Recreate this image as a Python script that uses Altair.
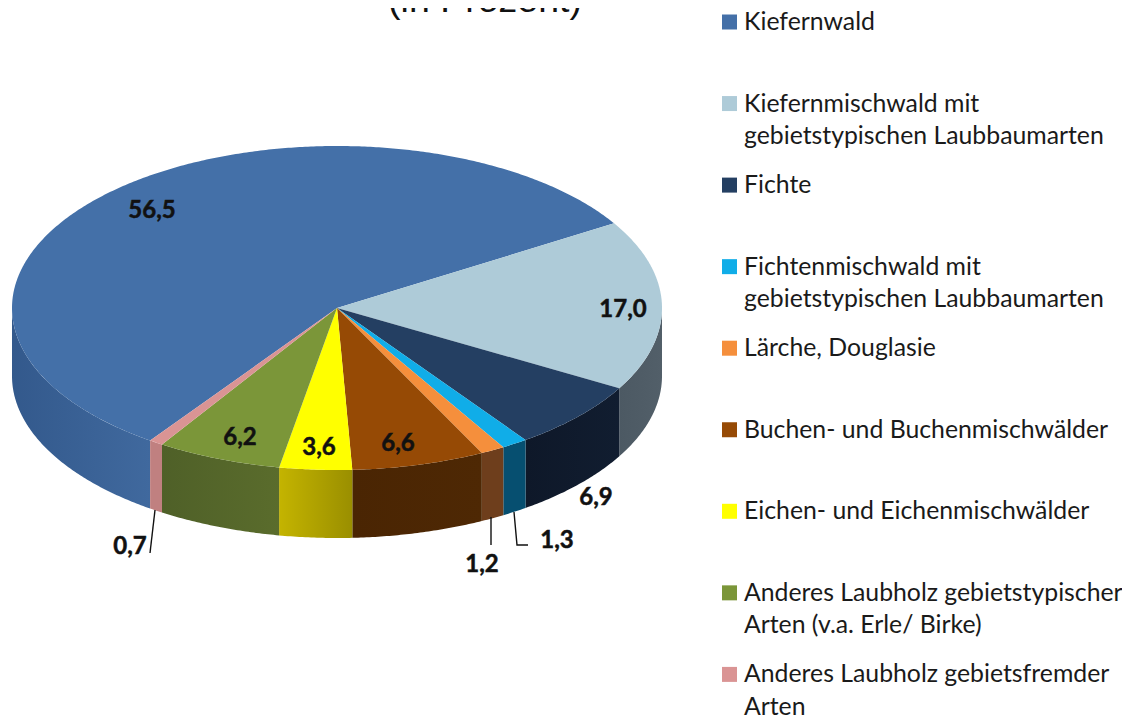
import math
import altair as alt
import pandas as pd

# ---- values
categories = ["Kiefernwald", "Kiefernmischwald mit\ngebietstypischen Laubbaumarten", "Fichte",
              "Fichtenmischwald mit\ngebietstypischen Laubbaumarten", "Lärche, Douglasie",
              "Buchen- und Buchenmischwälder", "Eichen- und Eichenmischwälder",
              "Anderes Laubholz gebietstypischer\nArten (v.a. Erle/ Birke)",
              "Anderes Laubholz gebietsfremder\nArten"]
values = [56.5, 17.0, 6.9, 1.3, 1.2, 6.6, 3.6, 6.2, 0.7]
value_labels = ["56,5", "17,0", "6,9", "1,3", "1,2", "6,6", "3,6", "6,2", "0,7"]
top_colors = ["#4470A8", "#AECBD8", "#243F62", "#10ADE8", "#F58F3C", "#964A05", "#FFFF00", "#7B9639", "#DA9494"]
wall_stops = [("#33598C", "#40699E"), ("#4C5963", "#525F69"), ("#0E1829", "#111D30"), ("#064F70", "#064F70"),
              ("#6E3E1C", "#6E3E1C"), ("#4A2503", "#4E2804"), ("#C4B400", "#9A8F00"), ("#4F6028", "#5A6C2C"),
              ("#C08080", "#C08080")]
label_px = [(152, 209), (623, 308), (596, 496), (557, 539), (482, 563), (398, 442), (319, 446), (240, 436), (130, 545)]
leaders = [[(155, 510), (150, 553)], [(491, 517), (491, 545)], [(514, 512), (517, 545), (528, 545)]]
title_text = "(in Prozent)"

# ---- pie geometry in page pixels
CX, CY, RX, RY, DEPTH, START = 337, 308, 325, 162, 68, 31.5 + 56.5 * 3.6
W, H = 1114, 711
OFF = 8


def px(a, depth=0):
    r = math.radians(a)
    return CX + RX * math.cos(r) - OFF, CY - RY * math.sin(r) + depth - OFF


xs = alt.X("x:Q", scale=alt.Scale(domain=[0, W], range=[0, W], nice=False), axis=None)
ys = alt.Y("y:Q", scale=alt.Scale(domain=[0, H], range=[0, H], nice=False), axis=None)

angles = [START]
for v in values:
    angles.append(angles[-1] - v * 3.6)

layers = []
# walls: only the part of each slice on the front half of the ellipse shows
for k, v in enumerate(values):
    a0, a1 = angles[k], angles[k + 1]
    for lo_lim, hi_lim in ((180, 360), (-180, 0)):
        lo, hi = max(a1, lo_lim), min(a0, hi_lim)
        if hi <= lo:
            continue
        n = max(3, int((hi - lo) * 2))
        rows = []
        for i in range(n + 1):
            x, y = px(lo + (hi - lo) * i / n)
            rows.append({"x": x, "y": y, "o": i})
        for i in range(n + 1):
            x, y = px(hi - (hi - lo) * i / n, DEPTH)
            rows.append({"x": x, "y": y, "o": n + 1 + i})
        c0, c1 = wall_stops[k]
        grad = alt.Gradient(gradient="linear", x1=0, x2=1, y1=0, y2=0,
                            stops=[alt.GradientStop(color=c0, offset=0), alt.GradientStop(color=c1, offset=1)])
        layers.append(alt.Chart(pd.DataFrame(rows)).mark_line(fill=grad, stroke=None, interpolate="linear-closed")
                      .encode(x=xs, y=ys, order="o:Q"))
# tops
for k, v in enumerate(values):
    a0, a1 = angles[k], angles[k + 1]
    n = max(3, int(abs(a0 - a1) * 2))
    rows = [{"x": CX - OFF, "y": CY - OFF, "o": 0}]
    for i in range(n + 1):
        x, y = px(a0 + (a1 - a0) * i / n)
        rows.append({"x": x, "y": y, "o": i + 1})
    layers.append(alt.Chart(pd.DataFrame(rows)).mark_line(fill=top_colors[k], stroke=None, interpolate="linear-closed")
                  .encode(x=xs, y=ys, order="o:Q"))
# leader lines
for seg in leaders:
    df = pd.DataFrame([{"x": p[0] - OFF, "y": p[1] - OFF, "o": i} for i, p in enumerate(seg)])
    layers.append(alt.Chart(df).mark_line(color="#111111", strokeWidth=1.4).encode(x=xs, y=ys, order="o:Q"))
# value labels
lab = pd.DataFrame({"x": [p[0] - OFF for p in label_px], "y": [p[1] - OFF for p in label_px], "t": value_labels})
layers.append(alt.Chart(lab).mark_text(font="Lato", fontWeight="bold", fontSize=24, color="#111111",
                                       stroke="#111111", strokeWidth=0.5, dy=2,
                                       align="center", baseline="middle").encode(x=xs, y=ys, text="t:N"))
# legend
leg_top = 22
step = 81.55
leg = pd.DataFrame({"x": [729.5 - OFF] * 9, "y": [leg_top + i * step - OFF for i in range(9)],
                    "tx": [744 - OFF] * 9, "c": categories, "t": [c.split("\n") for c in categories],
                    "col": top_colors})
layers.append(alt.Chart(leg).mark_square(size=225, opacity=1, filled=True).encode(
    x=xs, y=ys, color=alt.Color("col:N", scale=None)))
for i, row in leg.iterrows():
    d = pd.DataFrame([{"x": row["tx"], "y": row["y"]}])
    layers.append(alt.Chart(d).mark_text(font="Lato", fontSize=24.8, color="#1a1a1a", align="left", baseline="top",
                                         lineHeight=32.5, dy=-12).encode(x=xs, y=ys, text=alt.value(row["t"])))
# title, cut by the top edge as in the reference
ttl = pd.DataFrame({"x": [485 - OFF], "y": [11.5 - OFF], "t": [title_text]})
layers.append(alt.Chart(ttl).mark_text(font="Liberation Sans", fontSize=37.5, color="#111111", align="center",
                                       baseline="alphabetic", clip=False).encode(x=xs, y=ys, text="t:N"))

chart = alt.layer(*layers).properties(width=W, height=H, padding=0, autosize="none").configure_view(stroke=None)
chart.save("out.html", embed_options={"renderer": "svg", "actions": False})
